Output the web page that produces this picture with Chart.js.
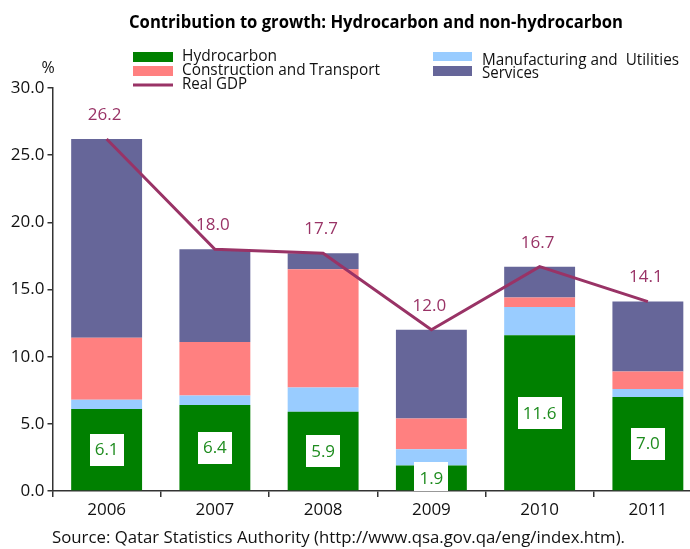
<!DOCTYPE html>
<html>
<head>
<meta charset="utf-8">
<title>Contribution to growth</title>
<script src="https://cdn.jsdelivr.net/npm/chart.js@4.4.1/dist/chart.umd.min.js"></script>
<style>
  html, body { margin: 0; padding: 0; background: #fff; overflow: hidden; }
  canvas { display: block; }
</style>
</head>
<body>
<canvas id="growthChart" width="720" height="549"></canvas>
<script>
const years = ['2006', '2007', '2008', '2009', '2010', '2011']
const hydrocarbon = [6.1, 6.4, 5.9, 1.9, 11.6, 7.0]
const manufacturing = [0.7, 0.7, 1.8, 1.2, 2.1, 0.6]
const construction = [4.6, 4.0, 8.8, 2.3, 0.7, 1.3]
const services = [14.8, 6.9, 1.2, 6.6, 2.3, 5.2]
const realGdp = [26.2, 18.0, 17.7, 12.0, 16.7, 14.1]
const yTicks = [0, 5, 10, 15, 20, 25, 30]

const FONT = "'Open Sans', 'Liberation Sans', sans-serif"
const GDP_COLOR = '#993366'
const LABEL_GREEN = '#1e8c1e'

// title, legend, source and the % unit are drawn by hand
const decorations = {
    id: 'decorations',
    afterDraw(chart) {
        const ctx = chart.ctx
        ctx.save()
        ctx.textBaseline = 'alphabetic'

        ctx.fillStyle = '#000'
        ctx.font = 'bold 18px ' + FONT
        ctx.textAlign = 'center'
        ctx.fillText('Contribution to growth: Hydrocarbon and non-hydrocarbon', 376, 28, 494)

        ctx.textAlign = 'left'
        ctx.fillStyle = '#008000'
        ctx.fillRect(133, 52, 40, 10)
        ctx.fillStyle = '#ff8080'
        ctx.fillRect(133, 66, 40, 10)
        ctx.strokeStyle = GDP_COLOR
        ctx.lineWidth = 3
        ctx.beginPath()
        ctx.moveTo(133, 85)
        ctx.lineTo(173, 85)
        ctx.stroke()
        ctx.fillStyle = '#99ccff'
        ctx.fillRect(433, 52, 39, 9)
        ctx.fillStyle = '#666699'
        ctx.fillRect(433, 66, 39, 10)

        ctx.font = '16px ' + FONT
        ctx.fillStyle = '#111'
        ctx.fillText('Hydrocarbon', 182, 61, 95)
        ctx.fillText('Construction and Transport', 182, 75, 198)
        ctx.fillText('Real GDP', 182, 89, 65)
        ctx.fillText('Manufacturing and  Utilities', 482, 65, 197)
        ctx.fillText('Services', 482, 78, 57)

        ctx.textAlign = 'center'
        ctx.fillText('%', 48, 73)

        ctx.font = '17px ' + FONT
        ctx.textAlign = 'left'
        ctx.fillText('Source: Qatar Statistics Authority (http://www.qsa.gov.qa/eng/index.htm).', 52, 543, 573)
        ctx.restore()
    }
}

// value labels: GDP above the line, hydrocarbon in a white box
const valueLabels = {
    id: 'valueLabels',
    afterDatasetsDraw(chart) {
        const ctx = chart.ctx
        const area = chart.chartArea
        ctx.save()
        ctx.font = '17px ' + FONT
        ctx.textAlign = 'center'
        ctx.textBaseline = 'middle'

        const lineMeta = chart.getDatasetMeta(4)
        ctx.fillStyle = GDP_COLOR
        lineMeta.data.forEach((pt, i) => {
            ctx.fillText(realGdp[i].toFixed(1), pt.x - 2, pt.y - 24)
        })

        const hydMeta = chart.getDatasetMeta(0)
        hydMeta.data.forEach((bar, i) => {
            const txt = hydrocarbon[i].toFixed(1)
            const w = ctx.measureText(txt).width + 10
            const h = 32
            const cy = (bar.y + bar.base) / 2
            ctx.save()
            ctx.beginPath()
            ctx.rect(area.left, area.top, area.right - area.left, area.bottom - area.top)
            ctx.clip()
            ctx.fillStyle = '#fff'
            ctx.fillRect(Math.round(bar.x - w / 2), Math.round(cy - h / 2), Math.round(w), h)
            ctx.restore()
            ctx.fillStyle = LABEL_GREEN
            ctx.fillText(txt, bar.x, cy + 1)
        })
        ctx.restore()
    }
}

const data = {
    labels: years,
    datasets: [
        { label: 'Hydrocarbon', data: hydrocarbon, backgroundColor: '#008000', stack: 'parts', order: 1 },
        { label: 'Manufacturing and  Utilities', data: manufacturing, backgroundColor: '#99ccff', stack: 'parts', order: 1 },
        { label: 'Construction and Transport', data: construction, backgroundColor: '#ff8080', stack: 'parts', order: 1 },
        { label: 'Services', data: services, backgroundColor: '#666699', stack: 'parts', order: 1 },
        {
            type: 'line',
            label: 'Real GDP',
            data: realGdp,
            borderColor: GDP_COLOR,
            borderWidth: 3,
            pointRadius: 0,
            tension: 0,
            fill: false,
            stack: 'gdp',
            order: 0
        }
    ]
}

const config = {
    type: 'bar',
    data: data,
    plugins: [valueLabels, decorations],
    options: {
        responsive: false,
        animation: false,
        layout: { padding: { top: 88, right: 18, left: 0, bottom: 0 } },
        datasets: {
            bar: { barPercentage: 0.655, categoryPercentage: 1 }
        },
        plugins: {
            legend: { display: false },
            title: { display: false },
            tooltip: { enabled: false }
        },
        scales: {
            x: {
                stacked: true,
                z: 1,
                afterFit: s => { s.height = 58 },
                grid: { offset: true, drawOnChartArea: false, tickLength: 6, color: '#333', lineWidth: 1.5 },
                border: { color: '#333', width: 1.5 },
                ticks: { color: '#111', font: { family: FONT, size: 17 }, padding: 3 }
            },
            y: {
                stacked: true,
                z: 1,
                min: yTicks[0],
                max: yTicks[yTicks.length - 1],
                afterFit: s => { s.width = 52.5 },
                afterBuildTicks: s => { s.ticks = yTicks.map(v => ({ value: v })) },
                grid: { drawOnChartArea: false, tickLength: 5, color: '#333', lineWidth: 1.5 },
                border: { color: '#333', width: 1.5 },
                ticks: {
                    color: '#111',
                    font: { family: FONT, size: 17 },
                    padding: 3,
                    callback: v => Number(v).toFixed(1)
                }
            }
        }
    }
}

new Chart(document.getElementById('growthChart').getContext('2d'), config)
</script>
</body>
</html>
